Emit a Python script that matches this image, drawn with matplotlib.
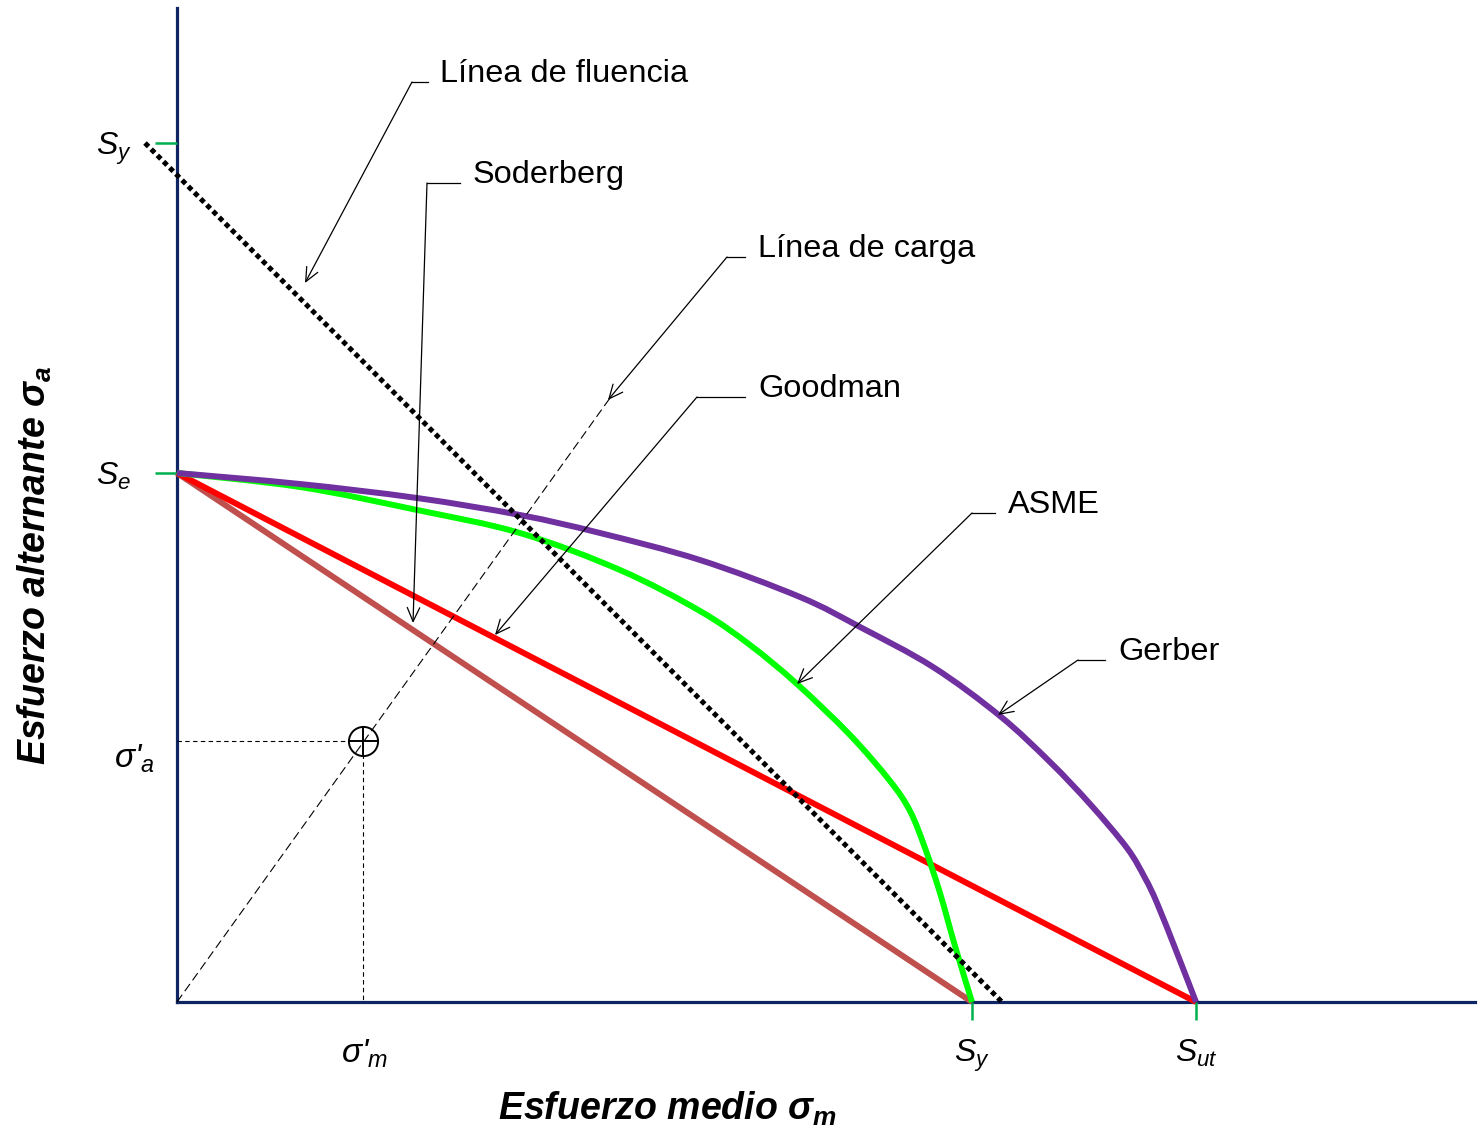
import matplotlib
matplotlib.use("Agg")
import matplotlib.pyplot as plt
from matplotlib.path import Path
from matplotlib.patches import PathPatch

plt.rcParams['font.family'] = 'Liberation Sans'
plt.rcParams['mathtext.fontset'] = 'custom'
plt.rcParams['mathtext.rm'] = 'Liberation Sans'
plt.rcParams['mathtext.it'] = 'Liberation Sans:italic'
plt.rcParams['mathtext.bf'] = 'Liberation Sans:bold:italic'

# Resistencias (unidades del diagrama)
S_ut = 1019      # resistencia última
S_y_m = 795      # fluencia sobre el eje medio
S_y_a = 859      # fluencia sobre el eje alternante
S_e = 529        # límite de resistencia a la fatiga

# Punto de trabajo
sigma_m_p = 186
sigma_a_p = 261

# Criterios de falla
soderberg_m = [0, S_y_m]
soderberg_a = [S_e, 0]
goodman_m = [0, S_ut]
goodman_a = [S_e, 0]
gerber_m = [0, 123, 240, 343, 423, 523, 623, 683, 756, 823, 873, 913, 950, 968, 980, 1000, 1019]
gerber_a = [529, 518, 504, 487, 469, 442, 405, 375, 335, 286, 240, 198, 154, 124, 99, 49, 0]
asme_m = [0, 123, 240, 343, 443, 523, 573, 620, 673, 713, 733, 748, 763, 778, 795]
asme_a = [529, 515, 492, 469, 432, 391, 357, 318, 267, 221, 191, 154, 109, 56, 0]
fluencia_m = [-32, 825]
fluencia_a = [S_y_a, 0]
carga_m = [0, 433]
carga_a = [0, 604]


def curva_suave(xs, ys):
    """Trayecto Bezier que pasa por los puntos dados (tangentes de Catmull-Rom)."""
    pts = list(zip(xs, ys))
    n = len(pts)
    verts = [pts[0]]
    codes = [Path.MOVETO]
    for i in range(n - 1):
        p0 = pts[i - 1] if i > 0 else pts[i]
        p1 = pts[i]
        p2 = pts[i + 1]
        p3 = pts[i + 2] if i + 2 < n else pts[i + 1]
        c1 = (p1[0] + (p2[0] - p0[0]) / 6, p1[1] + (p2[1] - p0[1]) / 6)
        c2 = (p2[0] - (p3[0] - p1[0]) / 6, p2[1] - (p3[1] - p1[1]) / 6)
        verts += [c1, c2, p2]
        codes += [Path.CURVE4] * 3
    return Path(verts, codes)


fig = plt.figure(figsize=(14.83, 11.36), dpi=100)
ax = fig.add_axes([0, 0, 1, 1])
ax.set_xlim(-177, 1306)
ax.set_ylim(-134, 1002)

# Ejes
navy = '#0E2463'
for s in ['top', 'right']:
    ax.spines[s].set_visible(False)
ax.spines['left'].set_position(('data', 0))
ax.spines['bottom'].set_position(('data', 0))
ax.spines['left'].set_bounds(0, 994)
ax.spines['bottom'].set_bounds(0, 1298)
for s in ['left', 'bottom']:
    ax.spines[s].set_color(navy)
    ax.spines[s].set_linewidth(2.3)
    ax.spines[s].set_zorder(1)

ax.set_xticks([S_y_m, S_ut])
ax.set_xticklabels([r'$S_y$', r'$S_{ut}$'], fontsize=23)
ax.set_yticks([S_y_a, S_e])
ax.set_yticklabels([r'$S_y$', r'$S_e$'], fontsize=23)
ax.tick_params(axis='x', direction='out', length=13, width=1.8, color='#00B050', pad=13)
ax.tick_params(axis='y', direction='out', length=16, width=1.8, color='#00B050', pad=17)

# Curvas
estilo = dict(lw=4.3, solid_capstyle='butt', solid_joinstyle='round')
ax.plot(soderberg_m, soderberg_a, color='#C0504D', zorder=3, **estilo)
ax.plot(goodman_m, goodman_a, color='#FF0000', zorder=3, **estilo)
ax.add_patch(PathPatch(curva_suave(asme_m, asme_a), fill=False, edgecolor='#00FF00',
                       lw=4.3, capstyle='butt', joinstyle='round', zorder=4))
ax.add_patch(PathPatch(curva_suave(gerber_m, gerber_a), fill=False, edgecolor='#7030A0',
                       lw=4.3, capstyle='butt', joinstyle='round', zorder=4))
ax.plot(fluencia_m, fluencia_a, color='black', lw=3.6, linestyle=(0, (1, 0.75)), zorder=5)
ax.plot(carga_m, carga_a, color='black', lw=0.8, linestyle=(0, (8, 4)), zorder=5)

# Punto de trabajo y proyecciones
ax.plot([0, sigma_m_p - 13], [sigma_a_p, sigma_a_p], color='black', lw=0.8, linestyle=(0, (4, 3)), zorder=5)
ax.plot([sigma_m_p, sigma_m_p], [sigma_a_p - 13, 0], color='black', lw=0.8, linestyle=(0, (4, 3)), zorder=5)
ax.plot([sigma_m_p], [sigma_a_p], marker='o', markersize=21, markerfacecolor='none',
        markeredgecolor='black', markeredgewidth=1.4, zorder=6)
ax.plot([sigma_m_p], [sigma_a_p], marker='+', markersize=21, color='black',
        markeredgewidth=1.4, zorder=6)

ax.text(sigma_m_p + 2, -36, "σ'$_m$", fontsize=24, fontstyle='italic', ha='center', va='top')
ax.text(-22, sigma_a_p - 18, "σ'$_a$", fontsize=24, fontstyle='italic', ha='right', va='center')

# Etiquetas con flechas
etiquetas = [
    ('Línea de fluencia', (263, 920), (251, 235), (128, 719)),
    ('Soderberg', (296, 819), (283, 250), (236, 379)),
    ('Línea de carga', (581, 745), (568, 550), (431, 602)),
    ('Goodman', (581, 605), (568, 520), (318, 367)),
    ('ASME', (831, 489), (818, 795), (620, 318)),
    ('Gerber', (941, 342), (928, 901), (821, 287)),
]
for texto, (tx, ty), (x0, x1), punta in etiquetas:
    ax.text(tx, ty, texto, fontsize=23.4, ha='left', va='baseline')
    ax.plot([x0, x1], [ty, ty], color='black', lw=0.9, zorder=6)
    ax.annotate('', xy=punta, xytext=(x1, ty),
                arrowprops=dict(arrowstyle='->,head_length=1.0,head_width=0.45',
                                color='black', lw=0.9, shrinkA=0, shrinkB=0), zorder=6)

# Títulos de los ejes
ax.text(491, -107, r'Esfuerzo medio $\mathbf{\sigma_m}$', fontsize=27, fontweight='bold',
        fontstyle='italic', ha='center', va='center')
ax.text(-142, 437, r'Esfuerzo alternante $\mathbf{\sigma_a}$', fontsize=27, fontweight='bold',
        fontstyle='italic', ha='center', va='center', rotation=90)

fig.savefig('out.png', dpi=100)
